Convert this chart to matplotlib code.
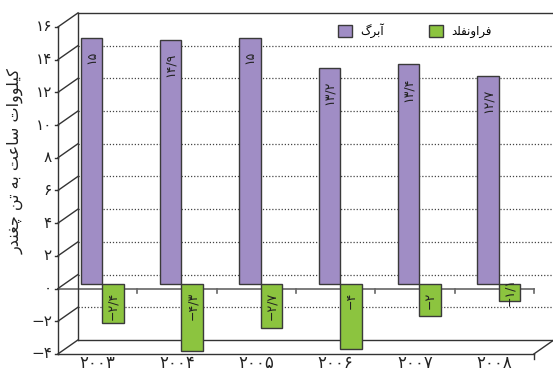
import matplotlib.pyplot as plt
from matplotlib.patches import Patch

# Energy use per ton of sugar beet at two factories
years = ['۲۰۰۳', '۲۰۰۴', '۲۰۰۵', '۲۰۰۶', '۲۰۰۷', '۲۰۰۸']
aarberg = [15, 14.9, 15, 13.2, 13.4, 12.7]
frauenfeld = [-2.4, -4.3, -2.7, -4, -2, -1.1]
y_ticks = [-4, -2, 0, 2, 4, 6, 8, 10, 12, 14, 16]
series_names = ['آبرگ', 'فراونفلد']
y_title = 'کیلووات ساعت به تن چغندر'

# Persian letter forms: isolated, final, initial, medial
FORMS = {
    'ا': '\uFE8D\uFE8E', 'آ': '\uFE81\uFE82', 'د': '\uFEA9\uFEAA',
    'ر': '\uFEAD\uFEAE', 'و': '\uFEED\uFEEE',
    'ب': '\uFE8F\uFE90\uFE91\uFE92', 'ت': '\uFE95\uFE96\uFE97\uFE98',
    'چ': '\uFB7A\uFB7B\uFB7C\uFB7D', 'س': '\uFEB1\uFEB2\uFEB3\uFEB4',
    'ع': '\uFEC9\uFECA\uFECB\uFECC', 'غ': '\uFECD\uFECE\uFECF\uFED0',
    'ف': '\uFED1\uFED2\uFED3\uFED4', 'ک': '\uFB8E\uFB8F\uFB90\uFB91',
    'گ': '\uFB92\uFB93\uFB94\uFB95', 'ل': '\uFEDD\uFEDE\uFEDF\uFEE0',
    'ن': '\uFEE5\uFEE6\uFEE7\uFEE8', 'ه': '\uFEE9\uFEEA\uFEEB\uFEEC',
    'ی': '\uFBFC\uFBFD\uFBFE\uFBFF',
}


def shape(text):
    # join the letters and put them in visual (left to right) order
    out = []
    for i, ch in enumerate(text):
        f = FORMS.get(ch)
        if f is None:
            out.append(ch)
            continue
        prev = text[i - 1] if i > 0 else ''
        nxt = text[i + 1] if i + 1 < len(text) else ''
        j_prev = len(FORMS.get(prev, '')) == 4
        j_next = len(f) == 4 and nxt in FORMS
        idx = 3 if j_prev and j_next else 1 if j_prev else 2 if j_next else 0
        out.append(f[idx])
    return ''.join(reversed(out))


FA = str.maketrans('0123456789.-', '۰۱۲۳۴۵۶۷۸۹/−')


def fa_num(v):
    return f'{v:g}'.translate(FA)


W, H = 553, 371
PX_X, PX_Y = 79.33, 16.35          # pixels per category / per unit
LEFT, ZERO = 58, 288.5             # front axis x, front zero line y (from top)

fig = plt.figure(figsize=(W / 100, H / 100), dpi=100)
ax = fig.add_axes([0, 0, 1, 1])
ax.set_xlim(-0.5 - LEFT / PX_X, -0.5 + (W - LEFT) / PX_X)
ax.set_ylim(-(H - ZERO) / PX_Y, ZERO / PX_Y)
ax.set_axis_off()

px = lambda p: p / PX_X
py = lambda p: p / PX_Y
bdx, bdy = px(20), py(14)          # depth offset of the back wall
mdx, mdy = px(4.5), py(5)          # depth offset of the bars

n = len(years)
x0, x1 = -0.5, n - 0.5
ymin, ymax = y_ticks[0], y_ticks[-1]
wall = '#333333'

# back wall and floor
ax.plot([x0 + bdx, x0 + bdx], [ymin + bdy, ymax + bdy], color=wall, lw=1)
ax.plot([x0 + bdx, x1 + bdx], [ymax + bdy, ymax + bdy], color=wall, lw=1)
ax.plot([x0 + bdx, x1 + bdx], [ymin + bdy, ymin + bdy], color=wall, lw=1)
for t in y_ticks[1:-1]:
    ax.plot([x0 + bdx, x1 + bdx], [t + bdy, t + bdy], color='#444444',
            lw=0.9, ls=(0, (1, 1.5)))

# front axis with slanted ticks
ax.plot([x0, x0], [ymin, ymax], color=wall, lw=1)
ax.plot([x0, x1], [ymin, ymin], color=wall, lw=1, zorder=4)
ax.plot([x1, x1 + bdx], [ymin, ymin + bdy], color=wall, lw=1)
ax.plot([x1, x1], [ymin, ymin - py(5)], color=wall, lw=1)
for t in y_ticks:
    ax.plot([x0, x0 + bdx], [t, t + bdy], color=wall, lw=1)
    ax.plot([x0 - px(3), x0], [t, t], color=wall, lw=1)
    ax.text(x0 - px(6), t, fa_num(t), ha='right', va='center',
            fontsize=11, color='#222222')

# zero line
ax.plot([x0, x1], [0, 0], color='#666666', lw=1.2, zorder=1)
for k in range(1, n + 1):
    ax.plot([x0 + k, x0 + k], [0, -py(4)], color='#666666', lw=1.2, zorder=1)

# bars
w = px(21.5)
purple, green = '#a08dc5', '#8cc43f'
xs = [i + mdx for i in range(n)]
ax.bar([x - w for x in xs], aarberg, width=w, bottom=mdy, align='edge',
       color=purple, edgecolor='#3a3a3a', lw=1, zorder=2)
green_bars = ax.bar(xs, frauenfeld, width=w, bottom=mdy, align='edge',
                    color=green, edgecolor='#3a3a3a', lw=1, zorder=2)
# keep the deepest bars just above the floor line
for b in green_bars:
    floor = ymin + py(3)
    if b.get_y() + b.get_height() < floor:
        b.set_height(floor - b.get_y())

for x, v in zip(xs, aarberg):
    ax.text(x - w / 2, v + mdy - py(13), fa_num(v), rotation=90,
            ha='center', va='top', fontsize=9, color='#222222', zorder=3)
for x, v in zip(xs, frauenfeld):
    if abs(v) < 2:
        y, va = v / 2 + mdy, 'center'
    else:
        y, va = mdy - py(8), 'top'
    ax.text(x + w / 2, y, fa_num(v), rotation=90, ha='center', va=va,
            fontsize=9, color='#222222', zorder=3)

# year labels
for i, yr in enumerate(years):
    ax.text(i, ymin - py(9), yr, ha='center', va='center', fontsize=12,
            color='#222222')

ax.text(px(15) - 0.5 - LEFT / PX_X, ZERO / PX_Y - py(161), shape(y_title),
        rotation=90, ha='center', va='center', fontsize=11.5, color='#222222')

handles = [Patch(facecolor=purple, edgecolor='#3a3a3a'),
           Patch(facecolor=green, edgecolor='#3a3a3a')]
fig.legend(handles, [shape(s) for s in series_names], ncol=2, frameon=False,
           loc='center left', bbox_to_anchor=(338 / W, 1 - 31 / H),
           fontsize=8.5, handlelength=1.2, handleheight=1.2,
           handletextpad=0.7, columnspacing=3.8, borderpad=0,
           borderaxespad=0)

fig.savefig('out.png', dpi=100)
